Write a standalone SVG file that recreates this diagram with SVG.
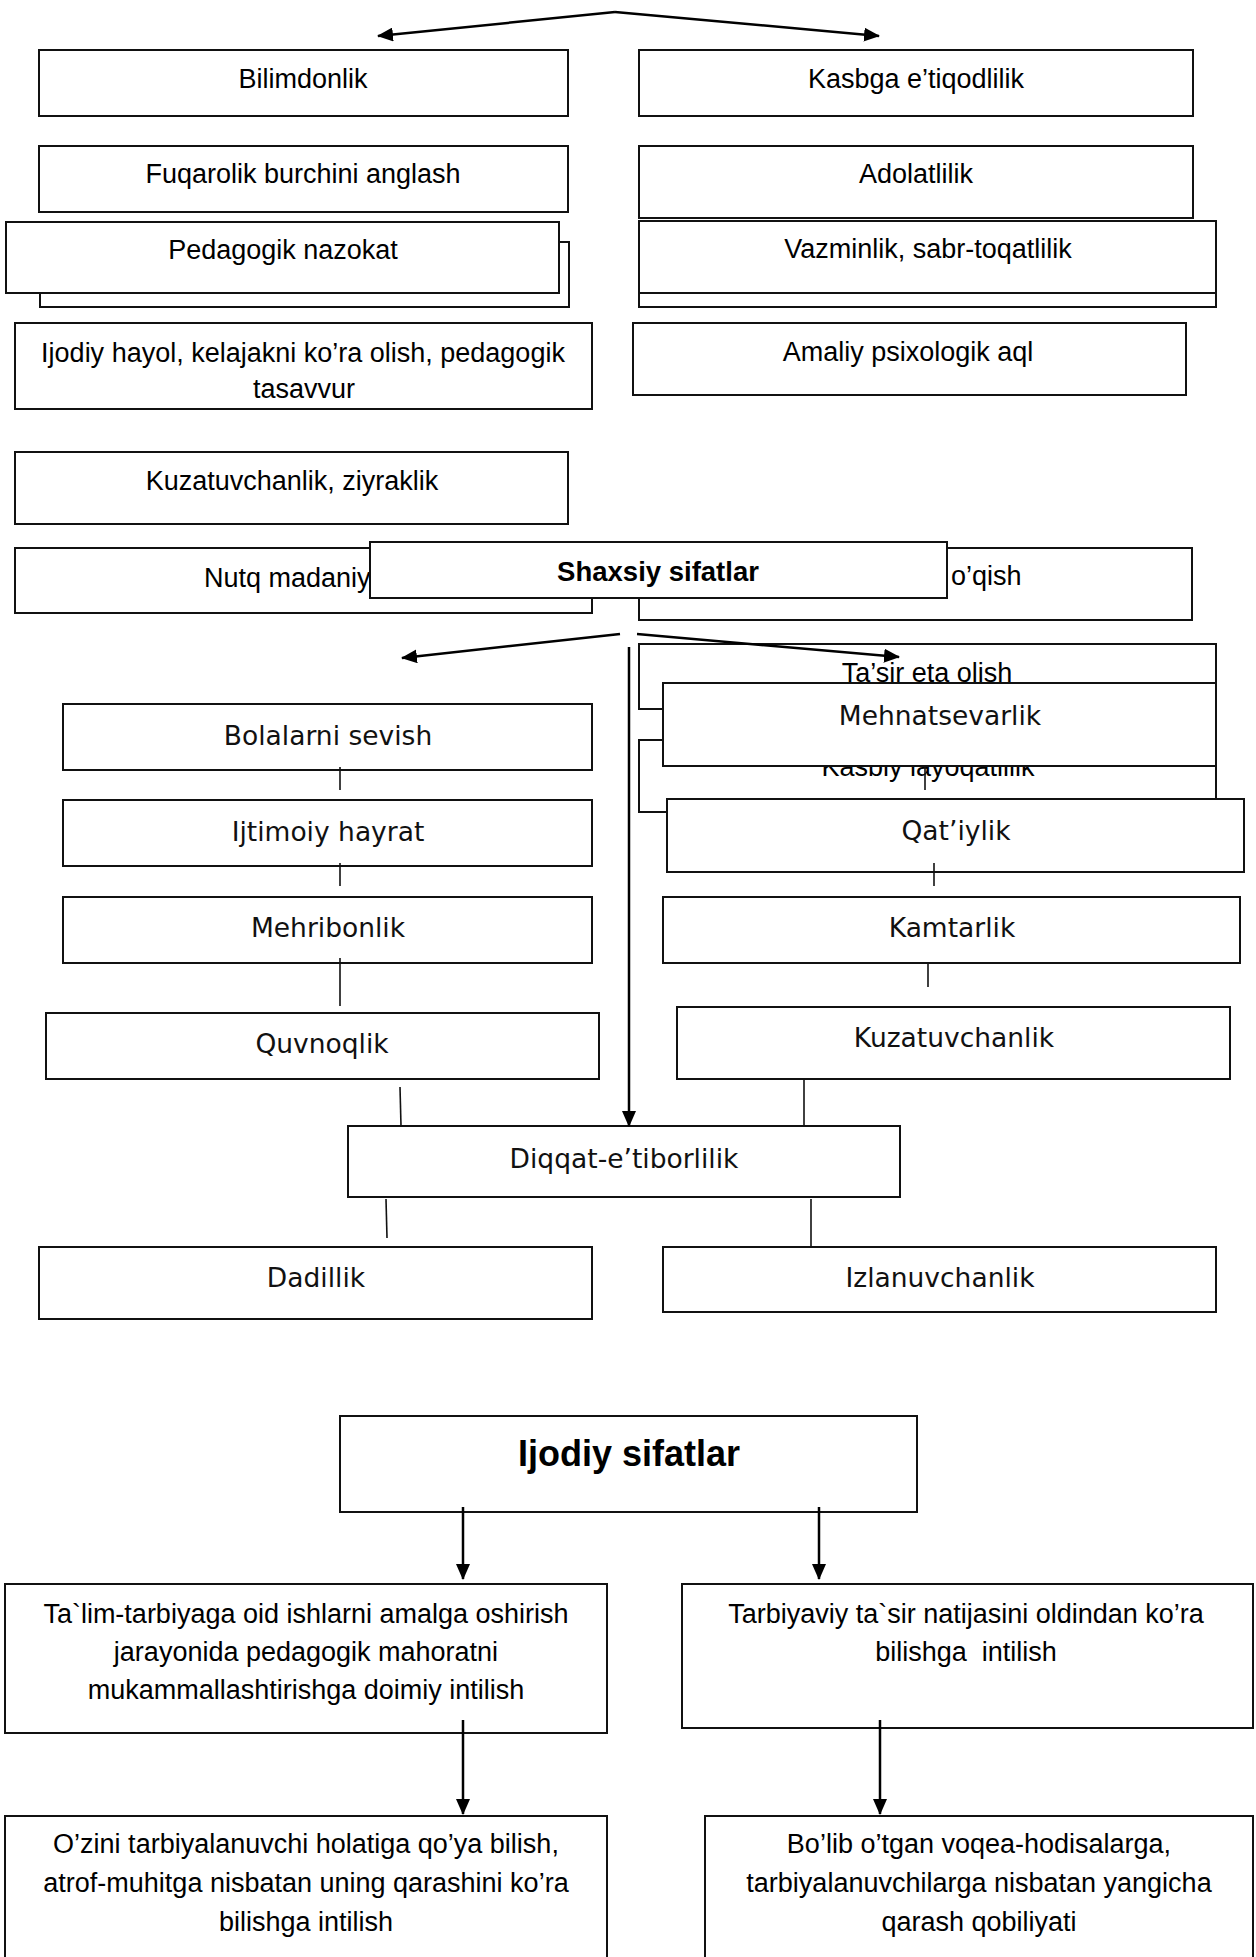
<svg xmlns="http://www.w3.org/2000/svg" width="1256" height="1957" viewBox="0 0 1256 1957">
<style>
.box{fill:#fff;stroke:#111;stroke-width:2}
.c{font-family:"Liberation Sans",Arial,sans-serif;font-size:27px;text-anchor:middle;fill:#000}
.cl{font-family:"Liberation Sans",Arial,sans-serif;font-size:27px;fill:#000}
.g{font-family:"DejaVu Sans",sans-serif;font-size:26.5px;text-anchor:middle;fill:#111}
.b{font-family:"Liberation Sans",Arial,sans-serif;font-weight:bold;text-anchor:middle;fill:#000}
.ln{stroke:#111;stroke-width:1.6;fill:none}
.ar{stroke:#000;stroke-width:2.5;fill:none;marker-end:url(#ah)}
</style>
<defs>
<marker id="ah" markerUnits="userSpaceOnUse" markerWidth="16" markerHeight="14" refX="15" refY="7" orient="auto">
<path d="M0,0 L16,7 L0,14 z" fill="#000"/>
</marker>
<clipPath id="clipTas"><rect x="0" y="323" width="600" height="78"/></clipPath>
</defs>
<rect width="1256" height="1957" fill="#fff"/>

<g id="n-bilimdonlik"><rect class="box" x="39" y="50" width="529" height="66"/><text class="c" x="303" y="88">Bilimdonlik</text></g>
<g id="n-kasbga"><rect class="box" x="639" y="50" width="554" height="66"/><text class="c" x="916" y="88">Kasbga e’tiqodlilik</text></g>
<g id="n-fuqarolik"><rect class="box" x="39" y="146" width="529" height="66"/><text class="c" x="303" y="183">Fuqarolik burchini anglash</text></g>
<g id="n-adolatlilik"><rect class="box" x="639" y="146" width="554" height="72"/><text class="c" x="916" y="183">Adolatlilik</text></g>
<g id="n-pedagogik"><rect class="box" x="40" y="242" width="529" height="65"/><rect class="box" x="6" y="222" width="553" height="71"/><text class="c" x="283" y="259">Pedagogik nazokat</text></g>
<g id="n-vazminlik"><rect class="box" x="639" y="235" width="577" height="72"/><rect class="box" x="639" y="221" width="577" height="72"/><text class="c" x="928" y="258">Vazminlik, sabr-toqatlilik</text></g>
<g id="n-ijodiyhayol"><rect class="box" x="15" y="323" width="577" height="86"/><text class="c" x="303" y="362">Ijodiy hayol, kelajakni ko’ra olish, pedagogik</text><text class="c" x="304" y="398" clip-path="url(#clipTas)">tasavvur</text></g>
<g id="n-amaliy"><rect class="box" x="633" y="323" width="553" height="72"/><text class="c" x="908" y="361">Amaliy psixologik aql</text></g>
<g id="n-kuzatuvchanlik-z"><rect class="box" x="15" y="452" width="553" height="72"/><text class="c" x="292" y="490">Kuzatuvchanlik, ziyraklik</text></g>
<g id="n-nutq"><rect class="box" x="15" y="548" width="577" height="65"/><text class="cl" x="204" y="587">Nutq madaniy</text></g>
<g id="n-oqish"><rect class="box" x="639" y="548" width="553" height="72"/><text class="cl" x="951" y="585">o’qish</text></g>
<g id="n-shaxsiy"><rect class="box" x="370" y="542" width="577" height="56"/><text class="b" x="658" y="581" font-size="27.5">Shaxsiy sifatlar</text></g>

<g id="n-tasir"><rect class="box" x="639" y="644" width="577" height="65"/><text class="c" x="927" y="682">Ta’sir eta olish</text></g>
<g id="n-kasbiy"><rect class="box" x="639" y="740" width="577" height="72"/><text class="c" x="928" y="776">Kasbiy layoqatlilik</text></g>
<g id="n-mehnatsevarlik"><rect class="box" x="663" y="683" width="553" height="83"/><text class="g" x="940" y="725">Mehnatsevarlik</text></g>
<g id="n-qatiylik"><rect class="box" x="667" y="799" width="577" height="73"/><text class="g" x="956" y="840">Qat’iylik</text></g>

<g id="n-bolalarni"><rect class="box" x="63" y="704" width="529" height="66"/><text class="g" x="328" y="745">Bolalarni sevish</text></g>
<g id="n-ijtimoiy"><rect class="box" x="63" y="800" width="529" height="66"/><text class="g" x="328" y="841">Ijtimoiy hayrat</text></g>
<g id="n-mehribonlik"><rect class="box" x="63" y="897" width="529" height="66"/><text class="g" x="328" y="937">Mehribonlik</text></g>
<g id="n-kamtarlik"><rect class="box" x="663" y="897" width="577" height="66"/><text class="g" x="952" y="937">Kamtarlik</text></g>
<g id="n-quvnoqlik"><rect class="box" x="46" y="1013" width="553" height="66"/><text class="g" x="322" y="1053">Quvnoqlik</text></g>
<g id="n-kuzatuvchanlik"><rect class="box" x="677" y="1007" width="553" height="72"/><text class="g" x="954" y="1047">Kuzatuvchanlik</text></g>
<g id="n-diqqat"><rect class="box" x="348" y="1126" width="552" height="71"/><text class="g" x="624" y="1168">Diqqat-e’tiborlilik</text></g>
<g id="n-dadillik"><rect class="box" x="39" y="1247" width="553" height="72"/><text class="g" x="316" y="1287">Dadillik</text></g>
<g id="n-izlanuvchanlik"><rect class="box" x="663" y="1247" width="553" height="65"/><text class="g" x="940" y="1287">Izlanuvchanlik</text></g>

<g id="n-ijodiy"><rect class="box" x="340" y="1416" width="577" height="96"/><text class="b" x="629" y="1466" font-size="36">Ijodiy sifatlar</text></g>
<g id="n-talim"><rect class="box" x="5" y="1584" width="602" height="149"/><text class="c" x="306" y="1623">Ta`lim-tarbiyaga oid ishlarni amalga oshirish</text><text class="c" x="306" y="1661">jarayonida pedagogik mahoratni</text><text class="c" x="306" y="1699">mukammallashtirishga doimiy intilish</text></g>
<g id="n-tarbiyaviy"><rect class="box" x="682" y="1584" width="571" height="144"/><text class="c" x="966" y="1623">Tarbiyaviy ta`sir natijasini oldindan ko’ra</text><text class="c" x="966" y="1661" style="white-space:pre">bilishga  intilish</text></g>
<g id="n-ozini"><rect class="box" x="5" y="1816" width="602" height="150"/><text class="c" x="306" y="1853">O’zini tarbiyalanuvchi holatiga qo’ya bilish,</text><text class="c" x="306" y="1892">atrof-muhitga nisbatan uning qarashini ko’ra</text><text class="c" x="306" y="1931">bilishga intilish</text></g>
<g id="n-bolib"><rect class="box" x="705" y="1816" width="548" height="150"/><text class="c" x="979" y="1853">Bo’lib o’tgan voqea-hodisalarga,</text><text class="c" x="979" y="1892">tarbiyalanuvchilarga nisbatan yangicha</text><text class="c" x="979" y="1931">qarash qobiliyati</text></g>

<g id="connectors">
<path class="ar" d="M615,12 L378,36"/>
<path class="ar" d="M615,12 L879,36"/>
<path class="ar" d="M620,634 L402,658"/>
<path class="ar" d="M637,634 L899,657"/>
<path class="ar" d="M629,647 L629,1126"/>
<path class="ln" d="M925,766 L925,790"/>
<path class="ln" d="M340,767 L340,790"/>
<path class="ln" d="M340,863 L340,886"/>
<path class="ln" d="M340,958 L340,1006"/>
<path class="ln" d="M400,1087 L401,1126"/>
<path class="ln" d="M386,1199 L387,1238"/>
<path class="ln" d="M934,863 L934,886"/>
<path class="ln" d="M928,964 L928,987"/>
<path class="ln" d="M804,1079 L804,1126"/>
<path class="ln" d="M811,1199 L811,1246"/>
<path class="ar" d="M463,1507 L463,1579"/>
<path class="ar" d="M819,1507 L819,1579"/>
<path class="ar" d="M463,1720 L463,1814"/>
<path class="ar" d="M880,1720 L880,1814"/>
</g>
</svg>
